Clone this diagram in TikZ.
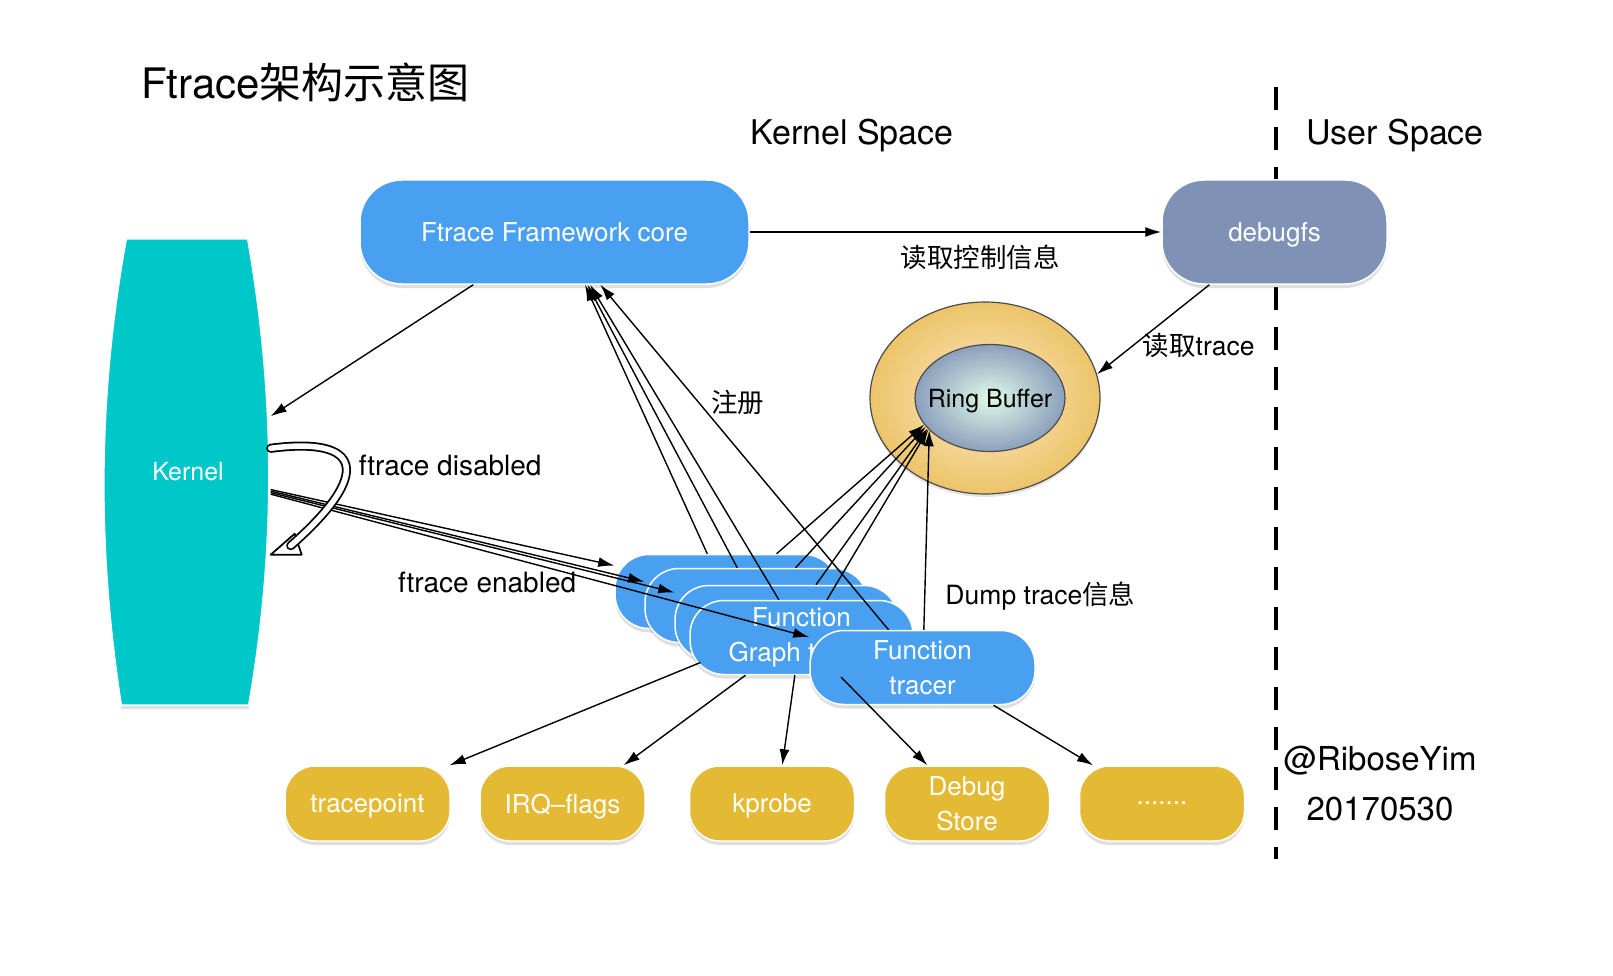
\documentclass[tikz,border=0pt]{standalone}
\usepackage{fontspec}
\setmainfont{TeX Gyre Heros}
\newfontfamily\cjk{Noto Sans CJK SC}
\usetikzlibrary{arrows.meta,shapes,shadows,calc,positioning,backgrounds}

\definecolor{coreblue}{RGB}{74,160,240}
\definecolor{fsgray}{RGB}{127,146,181}
\definecolor{kcyan}{RGB}{0,200,200}
\definecolor{tgold}{RGB}{228,185,52}
\definecolor{ringlt}{RGB}{252,232,198}
\definecolor{ringdk}{RGB}{236,196,105}
\definecolor{bufflt}{RGB}{222,250,232}
\definecolor{buffdk}{RGB}{140,160,188}

\begin{document}
\begin{tikzpicture}[x=1pt, y=-1pt, >={Latex[length=16pt,width=10pt]}, line width=1.4pt,
    node distance=195pt,
    blk/.style={rectangle, draw=white, line width=1.5pt, text=white, align=center,
        font=\fontsize{26}{35}\selectfont,
        drop shadow={opacity=0.25, shadow xshift=0pt, shadow yshift=-4pt}},
    fwbox/.style={blk, fill=coreblue, rounded corners=42pt, minimum width=389pt, minimum height=104pt},
    fsbox/.style={fwbox, fill=fsgray, minimum width=225pt, text depth=0pt},
    ftbox/.style={blk, fill=coreblue, rounded corners=34pt, minimum width=223pt, minimum height=74pt},
    evbox/.style={blk, fill=tgold, rounded corners=30pt, minimum width=165pt, minimum height=75pt, text depth=0pt},
    ring/.style={ellipse, draw=black!70, line width=1.2pt, shade},
    lbl/.style={font=\fontsize{28}{32}\selectfont, inner sep=2pt},
    cnlbl/.style={font=\fontsize{26.5}{30}\selectfont, inner sep=2pt}]
    \useasboundingbox (0,0) rectangle (1613,976);

    % kernel / user space border
    \coordinate (divtop) at (1276,87);
    \coordinate (divbot) at (1276,859);
    \draw[line width=4pt, dash pattern=on 23pt off 17pt] (divtop) -- (divbot);

    \node[anchor=west, font=\fontsize{42}{48}\selectfont] (title) at (137,82) {Ftrace{\cjk 架构示意图}};
    \node[font=\fontsize{34}{40}\selectfont] (kspace) at (852,136) {Kernel Space};
    \node[font=\fontsize{34}{40}\selectfont] (uspace) at (1395,136) {User Space};

    \node[fwbox] (core) at (554.5,232) {Ftrace Framework core};
    \node[fsbox] (debugfs) at (1274.5,232) {debugfs};
    \node[text=white, font=\fontsize{25}{30}\selectfont, minimum width=164pt, minimum height=465pt] (kernel) at (188,472) {Kernel};

    \node[ring, inner color=ringlt, outer color=ringdk, minimum width=230pt, minimum height=192pt,
        drop shadow={opacity=0.2, shadow xshift=0pt, shadow yshift=-3pt}] (ringout) at (985,398) {};
    \node[ring, inner color=bufflt, outer color=buffdk, minimum width=150pt, minimum height=107pt] (ringin) at (990,398) {};
    \node[font=\fontsize{25}{30}\selectfont, text depth=0pt] (rbtext) at (ringin.center) {Ring Buffer};

    % tracer stack
    \node[ftbox] (fga) at (726.5,591.5) {};
    \node[ftbox] (fgb) at (756.5,605.5) {};
    \node[ftbox] (fgc) at (786.5,622.5) {};
    \node[ftbox] (fgd) at (801.5,637.5) {Function\\Graph tracer};
    \node[ftbox, minimum width=225pt] (ftracer) at (922.5,667.5) {Function\\tracer};

    \node[evbox] (tpoint) at (367.5,803.5) {tracepoint};
    \node[evbox] (irq) [right of=tpoint] {IRQ--flags};
    \node[evbox] (kprobe) at (772,803.5) {kprobe};
    \node[evbox] (dstore) [right of=kprobe] {Debug\\Store};
    \node[evbox] (more) [right of=dstore] {.......};

    \path[->] (core.east) edge node[cnlbl, pos=0.56, below=10pt] {{\cjk 读取控制信息}} (debugfs.west)
              (debugfs.219) edge node[cnlbl, pos=0.68, right=7pt] {{\cjk 读取}trace} (ringout.12)
              (core.213) edge (kernel.34);

    \path[->] (kernel.-12) edge node[lbl, pos=0.63, below=32pt] {ftrace enabled} (fga.167)
              (kernel.-13) edge (fgb.168)
              (kernel.-14) edge (fgc.165)
              (kernel.-15) edge (ftracer.165);

    \path[->] (fga.117) edge (core.-60)
              (fgb.117) edge (core.-58)
              (fgd.121) edge (core.-56)
              (ftracer.132) edge node[cnlbl, pos=0.66, right=10pt] {{\cjk 注册}} (core.-49);

    \path[->] (fga.37) edge (ringin.202)
              (fgb.44) edge (ringin.204)
              (fgc.52) edge (ringin.206)
              (fgd.56) edge (ringin.207)
              (ftracer.88) edge node[cnlbl, pos=0.17, right=18pt] {Dump trace{\cjk 信息}} (ringin.208);

    \coordinate (tpfrom) at ($(fgd.center)+(-101,25)$);
    \coordinate (dsfrom) at ($(ftracer.center)+(-81.5,9.5)$);
    \path[->] (tpfrom) edge (tpoint.25)
              (fgd.214) edge (irq.32)
              (fgd.260) edge (kprobe.75)
              (dsfrom) edge (dstore.136)
              (ftracer.-28) edge (more.151);

    % ftrace disabled loop
    \coordinate (offtip) at (kernel.-45);
    \draw[fill=white, line width=1.8pt, line join=round] (offtip) -- ++(31,0) -- ++(-7,-21) -- cycle;
    \draw[line width=1.8pt, double=white, double distance=5.5pt, line cap=round]
        (kernel.16) .. controls +(92,-12) and +(82,-72) .. ($(offtip)+(20,-9)$)
        node[lbl, pos=0.5, right=10pt] {ftrace disabled};

    \node[font=\fontsize{33}{38}\selectfont] (sig) at (1380,761) {@RiboseYim};
    \node[font=\fontsize{33}{38}\selectfont] (date) [below of=sig, node distance=48pt] {20170530};

    \begin{scope}[on background layer]
      \fill[white] (0,0) rectangle (1613,976);
      \path[fill=kcyan, draw=white, line width=1.5pt, drop shadow={opacity=0.25, shadow xshift=0pt, shadow yshift=-4pt}]
        ($(kernel.north west)+(21,0)$) -- ($(kernel.north east)+(-23,0)$)
        .. controls ($(kernel.north east)+(5,160)$) and ($(kernel.south east)+(5,-155)$) .. ($(kernel.south east)+(-22,0)$)
        -- ($(kernel.south west)+(16,0)$)
        .. controls ($(kernel.south west)+(-8,-155)$) and ($(kernel.north west)+(-8,160)$) .. ($(kernel.north west)+(21,0)$)
        -- cycle;
    \end{scope}
\end{tikzpicture}
\end{document}
